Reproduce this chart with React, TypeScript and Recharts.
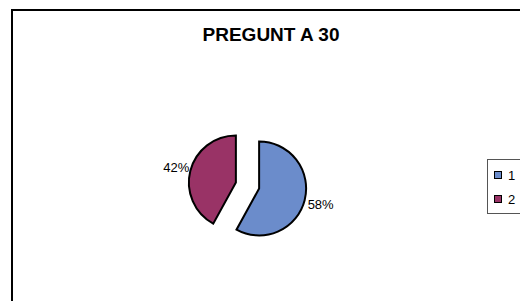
import React from 'react';
import { PieChart, Pie, Cell, Sector, Legend } from 'recharts';

const categories = ['1', '2'];
const values = [58, 42];
const colors = ['#6b8ccb', '#993366'];

const data = categories.map((name, i) => ({ name, value: values[i] }));

const RAD = Math.PI / 180;
const EXPLODE = 12;

// each slice pushed out along its bisector (exploded pie)
function ExplodedSlice(props: any) {
  const { cx, cy, midAngle } = props;
  const dx = EXPLODE * Math.cos(-midAngle * RAD);
  const dy = EXPLODE * Math.sin(-midAngle * RAD);
  return <Sector {...props} cx={cx + dx} cy={cy + dy} stroke="#000" strokeWidth={2} />;
}

function renderLabel(props: any) {
  const { cx, cy, midAngle, outerRadius, percent } = props;
  const cos = Math.cos(-midAngle * RAD);
  const sin = Math.sin(-midAngle * RAD);
  const ex = cx + (EXPLODE + outerRadius) * cos;
  const ey = cy + (EXPLODE + outerRadius) * sin;
  const right = cos >= 0;
  return (
    <text
      x={ex + (right ? 3 : -1)}
      y={ey + (right ? 4 : -3)}
      textAnchor={right ? 'start' : 'end'}
      dominantBaseline="central"
      fontFamily="'Liberation Sans', Arial, sans-serif"
      fontSize={13}
      fill="#000"
    >
      {`${Math.round(percent * 100)}%`}
    </text>
  );
}

function LegendBox(props: any) {
  const { payload } = props;
  return (
    <div
      style={{
        border: '1px solid #555',
        padding: '3px 14px 2px 6px',
        fontFamily: "'Liberation Sans', Arial, sans-serif",
        fontSize: 13,
        background: '#fff',
      }}
    >
      {(payload || []).map((p: any, i: number) => (
        <div key={i} style={{ display: 'flex', alignItems: 'center', height: 24 }}>
          <span
            style={{
              display: 'inline-block',
              width: 6,
              height: 6,
              border: '1.5px solid #000',
              background: colors[i],
              marginRight: 6,
            }}
          />
          <span>{categories[i]}</span>
        </div>
      ))}
    </div>
  );
}

export default function App() {
  return (
    <div
      style={{
        position: 'fixed',
        left: 0,
        top: 0,
        width: 520,
        height: 301,
        overflow: 'hidden',
        background: '#fff',
      }}
    >
      <div
        style={{
          position: 'absolute',
          left: 11,
          top: 9,
          width: 600,
          height: 400,
          border: '2px solid #000',
        }}
      />
      <div
        style={{
          position: 'absolute',
          left: 171,
          width: 200,
          top: 24,
          textAlign: 'center',
          fontFamily: "'Liberation Sans', Arial, sans-serif",
          fontWeight: 'bold',
          fontSize: 19,
          letterSpacing: 0,
          color: '#000',
        }}
      >
        PREGUNT A 30
      </div>
      <PieChart width={520} height={301} style={{ position: 'absolute', left: 0, top: 0 }}>
        <Pie
          data={data}
          dataKey="value"
          nameKey="name"
          cx={242.5}
          cy={180.5}
          outerRadius={47}
          startAngle={90}
          endAngle={-270}
          shape={ExplodedSlice}
          label={renderLabel}
          labelLine={false}
          isAnimationActive={false}
        >
          {data.map((d, i) => (
            <Cell key={d.name} fill={colors[i]} />
          ))}
        </Pie>
        <Legend
          content={LegendBox}
          wrapperStyle={{ position: 'absolute', left: 487, top: 159, width: 'auto' }}
        />
      </PieChart>
    </div>
  );
}
